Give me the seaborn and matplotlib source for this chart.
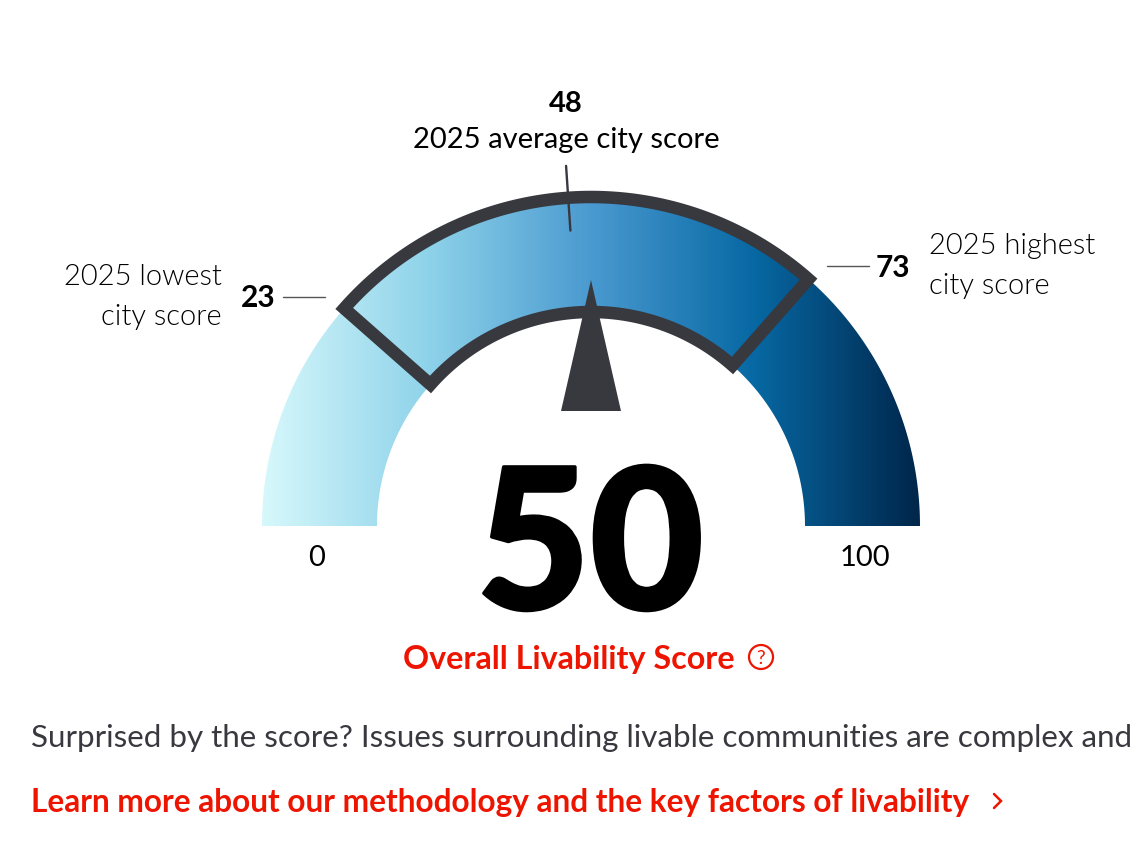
"""Livability gauge chart."""

import matplotlib
import matplotlib.patheffects as pe
import matplotlib.pyplot as plt
import numpy as np
import seaborn as sns
from matplotlib.patches import Circle, Polygon

matplotlib.use("Agg")

SCORE = 50
LOWEST = 23
AVERAGE = 48
HIGHEST = 73
SCALE_MIN = 0
SCALE_MAX = 100

GRADIENT_COLORS = ["#d6f8fb", "#8fd3ea", "#4a9ad0", "#0768a3", "#00264b"]

DARK = "#38383f"
RED = "#ee1500"

CX, CY = 591, 526
R_OUTER, R_INNER = 329, 214


def polar(score, radius):
    """Score on the 0-100 scale to pixel position on the half circle."""
    theta = np.radians(180 - 180 * (np.asarray(score) - SCALE_MIN) / (SCALE_MAX - SCALE_MIN))
    return CX + radius * np.cos(theta), CY - radius * np.sin(theta)


def band(start, end, n=200):
    """Closed outline of the gauge band between two scores."""
    scores = np.linspace(start, end, n)
    xo, yo = polar(scores, R_OUTER)
    xi, yi = polar(scores[::-1], R_INNER)
    return np.column_stack([np.r_[xo, xi], np.r_[yo, yi]])


sns.set_theme(style="white")
plt.rcParams["font.family"] = ["Lato", "DejaVu Sans"]

fig = plt.figure(figsize=(11.46, 8.6), dpi=100)
ax = fig.add_axes([0, 0, 1, 1])
ax.axis("off")

# horizontal gradient clipped to the whole band
cmap = sns.blend_palette(GRADIENT_COLORS, as_cmap=True)
image = ax.imshow(
    np.linspace(0, 1, 658).reshape(1, -1),
    cmap=cmap,
    extent=(CX - R_OUTER, CX + R_OUTER, CY, CY - R_OUTER),
    aspect="auto",
    zorder=1,
)
ax.set_xlim(0, 1146)
ax.set_ylim(860, 0)
clip = Polygon(band(SCALE_MIN, SCALE_MAX), closed=True, transform=ax.transData, fill=False, lw=0)
ax.add_patch(clip)
image.set_clip_path(clip)

# city range outline
ax.add_patch(Polygon(band(LOWEST, HIGHEST), closed=True, fill=False, ec=DARK, lw=9, joinstyle="miter", zorder=2))

# needle
tip = polar(SCORE, 246)
base_c = np.array(polar(SCORE, 115))
normal = np.array([tip[1] - base_c[1], base_c[0] - tip[0]])
normal = normal / np.linalg.norm(normal) * 30
ax.add_patch(Polygon([tip, base_c + normal, base_c - normal], closed=True, fc=DARK, ec="none", zorder=3))

# average marker, leans slightly more than its score angle
x0, y0 = polar(AVERAGE, 296)
x1, y1 = polar(AVERAGE - 0.2, 361)
ax.plot([x0 - 2, x1], [y0, y1], color=DARK, lw=1.7, zorder=4)

# leader lines
ax.plot([283, 325], [297, 297], color="#555555", lw=1, zorder=4)
ax.plot([827, 869], [266, 266], color="#555555", lw=1, zorder=4)

txt = dict(color="black", va="baseline")
ax.text(566, 112, str(AVERAGE), ha="center", fontsize=21, fontweight="bold", **txt)
ax.text(566, 148, "2025 average city score", ha="center", fontsize=21, **txt)
ax.text(222, 285, "2025 lowest", ha="right", fontsize=21, fontweight=300, **txt)
ax.text(222, 325, "city score", ha="right", fontsize=21, fontweight=300, **txt)
ax.text(275, 307, str(LOWEST), ha="right", fontsize=21.5, fontweight="bold", **txt)
ax.text(876, 277, str(HIGHEST), ha="left", fontsize=21.5, fontweight="bold", **txt)
ax.text(929, 254, "2025 highest", ha="left", fontsize=21, fontweight=300, **txt)
ax.text(929, 294, "city score", ha="left", fontsize=21, fontweight=300, **txt)
ax.text(317, 566, str(SCALE_MIN), ha="center", fontsize=21, **txt)
ax.text(865, 566, str(SCALE_MAX), ha="center", fontsize=21, **txt)
big = ax.text(590, 609, str(SCORE), ha="center", fontsize=141, fontweight="black", **txt)
big.set_path_effects([pe.withStroke(linewidth=2.5, foreground="black")])

ax.text(403, 669, "Overall Livability Score", ha="left", va="baseline", color=RED, fontsize=23.2, fontweight="bold")
ax.add_patch(Circle((761, 657), 12, fill=False, ec=RED, lw=1.6))
ax.text(761, 664, "?", ha="center", va="baseline", color=RED, fontsize=14, fontweight="normal")

ax.text(31, 747, "Surprised by the score? Issues surrounding livable communities are complex and",
        ha="left", va="baseline", color=DARK, fontsize=22.6)
ax.text(31, 812, "Learn more about our methodology and the key factors of livability",
        ha="left", va="baseline", color=RED, fontsize=22.8, fontweight="bold")
ax.plot([994, 1001, 994], [794, 801, 808], color=RED, lw=1.8, solid_joinstyle="miter")

fig.savefig("out.png", dpi=100)
plt.close(fig)
